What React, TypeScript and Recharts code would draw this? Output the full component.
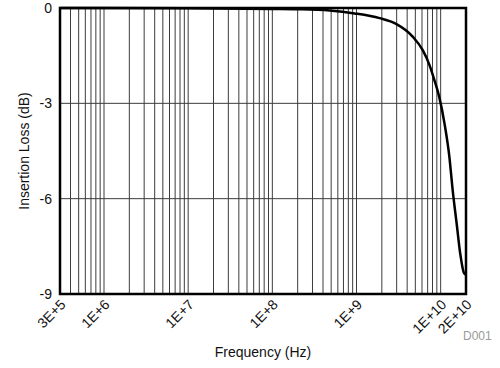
import { LineChart, Line, XAxis, YAxis, CartesianGrid, ReferenceArea } from 'recharts';

// frequency sweep
const freqHz = [
  3e5, 1e6, 1e7, 1e8, 2e8, 4.8e8, 9.5e8, 1.88e9, 2.95e9, 4.65e9, 6.1e9, 7.35e9, 8.4e9, 9.66e9, 1.11e10,
  1.27e10, 1.39e10, 1.55e10, 1.71e10, 1.88e10, 2e10,
];
const lossDb = [
  0, 0, -0.01, -0.03, -0.04, -0.08, -0.17, -0.32, -0.5, -0.9, -1.32, -1.79, -2.26, -2.82, -3.63, -4.69,
  -5.74, -6.79, -7.74, -8.32, -8.4,
];

// log grid positions (every 1..9 x decade)
const gridTicks = [
  3e5, 4e5, 5e5, 6e5, 7e5, 8e5, 9e5,
  1e6, 2e6, 3e6, 4e6, 5e6, 6e6, 7e6, 8e6, 9e6,
  1e7, 2e7, 3e7, 4e7, 5e7, 6e7, 7e7, 8e7, 9e7,
  1e8, 2e8, 3e8, 4e8, 5e8, 6e8, 7e8, 8e8, 9e8,
  1e9, 2e9, 3e9, 4e9, 5e9, 6e9, 7e9, 8e9, 9e9,
  1e10, 2e10,
];
const labeledTicks = [3e5, 1e6, 1e7, 1e8, 1e9, 1e10, 2e10];
const tickLabels = ['3E+5', '1E+6', '1E+7', '1E+8', '1E+9', '1E+10', '2E+10'];
const yTicks = [0, -3, -6, -9];

const data = freqHz.map((f, i) => ({ f, loss: lossDb[i] }));

const FONT = '"Liberation Sans", Arial, sans-serif';

const FreqTick = ({ x, y, payload }: any) => {
  const i = labeledTicks.indexOf(payload.value);
  if (i < 0) return <g />;
  const ax = x + 3;
  const ay = y + 8;
  return (
    <text
      x={ax}
      y={ay}
      transform={`rotate(-45, ${ax}, ${ay})`}
      textAnchor="end"
      dominantBaseline="central"
      fontSize={14}
      fill="#111"
      fontFamily={FONT}
    >
      {tickLabels[i]}
    </text>
  );
};

const YTitle = ({ viewBox }: any) => {
  const cy = viewBox.y + viewBox.height / 2;
  return (
    <text
      x={24}
      y={cy}
      transform={`rotate(-90, 24, ${cy})`}
      textAnchor="middle"
      dominantBaseline="central"
      fontSize={14}
      fill="#111"
      fontFamily={FONT}
    >
      Insertion Loss (dB)
    </text>
  );
};

const XTitle = ({ viewBox }: any) => {
  const cx = viewBox.x + viewBox.width / 2;
  return (
    <text x={cx} y={352} textAnchor="middle" dominantBaseline="central" fontSize={14} fill="#111" fontFamily={FONT}>
      Frequency (Hz)
    </text>
  );
};

export default function App() {
  return (
    <div style={{ position: 'absolute', left: 0, top: 0, width: 500, height: 368, background: '#fff', fontFamily: FONT }}>
      <LineChart width={500} height={368} data={data} margin={{ top: 8, right: 34, left: 0, bottom: 0 }}>
        <CartesianGrid stroke="#3c3c3c" strokeWidth={1} />
        <XAxis
          dataKey="f"
          type="number"
          scale="log"
          domain={[3e5, 2e10]}
          allowDataOverflow
          ticks={gridTicks}
          interval={0}
          tick={<FreqTick />}
          tickLine={false}
          axisLine={false}
          tickSize={0}
          tickMargin={0}
          height={74}
          label={{ content: <XTitle /> }}
        />
        <YAxis
          type="number"
          domain={[-9, 0]}
          ticks={yTicks}
          interval={0}
          tickLine={false}
          axisLine={false}
          tickSize={0}
          tickMargin={8}
          width={60}
          tick={{ fontSize: 14, fill: '#111', fontFamily: FONT }}
          label={{ content: <YTitle /> }}
        />
        <ReferenceArea x1={3e5} x2={2e10} y1={-9} y2={0} fill="none" fillOpacity={0} stroke="#000" strokeWidth={2.5} />
        <Line
          type="monotone"
          dataKey="loss"
          stroke="#000"
          strokeWidth={2.5}
          dot={false}
          isAnimationActive={false}
        />
      </LineChart>
      <div style={{ position: 'absolute', left: 463, top: 329, fontSize: 12, color: '#999', fontFamily: FONT }}>D001</div>
    </div>
  );
}
